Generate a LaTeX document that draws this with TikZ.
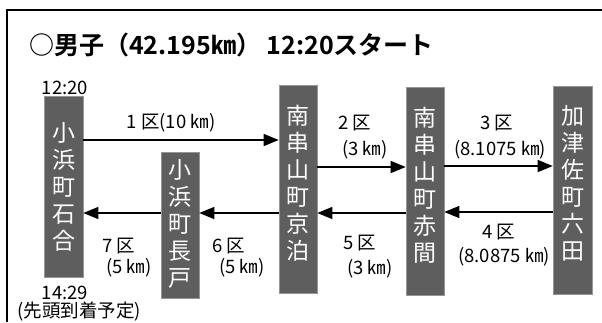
\documentclass[tikz,border=0pt]{standalone}
\usepackage{fontspec}
\setmainfont{Noto Sans CJK JP}[BoldFont={Noto Sans CJK JP Bold}]
\usetikzlibrary{arrows.meta}
\definecolor{boxfill}{RGB}{94,94,94}
\definecolor{boxline}{RGB}{150,150,150}
\tikzset{
  stbox/.style={draw=boxline, line width=0.6pt, fill=boxfill, minimum width=38pt, inner sep=0pt},
  boxtxt/.style={text=white, align=center, inner sep=0pt, font=\fontsize{23}{27}\selectfont},
  lbl/.style={inner sep=0pt, font=\fontsize{18.5}{20}\selectfont},
  arr/.style={line width=1.2pt, -{Triangle[length=15pt,width=12pt]}},
  frame/.style={line width=1.5pt}
}
\begin{document}
\begin{tikzpicture}[x=1pt,y=-1pt]
\useasboundingbox (0,0) rectangle (602,322);
\fill[white] (0,0) rectangle (602,322);
\draw[frame] (7,322) -- (7,10) -- (602,10);
% title
\node[anchor=west, inner sep=0pt, font=\fontsize{25}{28}\selectfont\bfseries] (title) at (29,45) {○男子（42.195㎞） 12:20スタート};
% boxes
\node[stbox, minimum width=39pt, minimum height=181pt] (b1) at (63.5,186.5) {};
\node[stbox, minimum height=146pt] (b2) at (180,225) {};
\node[stbox, minimum height=208pt] (b3) at (298,189) {};
\node[stbox, minimum height=208pt] (b4) at (425,191) {};
\node[stbox, minimum width=39pt, minimum height=208pt] (b5) at (572.5,190) {};
\node[boxtxt] (t1) at (63.5,186.5) {小\\浜\\町\\石\\合};
\node[boxtxt] (t2) at (180,224) {小\\浜\\町\\長\\戸};
\node[boxtxt] (t3) at (298,183) {南\\串\\山\\町\\京\\泊};
\node[boxtxt] (t4) at (425,185) {南\\串\\山\\町\\赤\\間};
\node[boxtxt] (t5) at (572.5,183) {加\\津\\佐\\町\\六\\田};
% arrows
\draw[arr] ([yshift=46.5pt]b1.east) -- ([yshift=49pt]b3.west);
\draw[arr] ([yshift=22pt]b3.east) -- ([yshift=24pt]b4.west);
\draw[arr] ([yshift=25pt]b4.east) -- ([yshift=24pt]b5.west);
\draw[arr] ([yshift=-22pt]b5.west) -- ([yshift=-21pt]b4.east);
\draw[arr] ([yshift=-22pt]b4.west) -- ([yshift=-24pt]b3.east);
\draw[arr] ([yshift=-24pt]b3.west) -- ([yshift=12pt]b2.east);
\draw[arr] ([yshift=12pt]b2.west) -- ([yshift=-26.5pt]b1.east);
% labels
\node[lbl] (s) at (65,88) {12:20};
\node[lbl] (e) at (65,293) {14:29};
\node[lbl] (e2) at (79,312) {(先頭到着予定)};
\node[lbl] (l1) at (171,123) {1 区(10 ㎞)};
\node[lbl] (l2a) at (355,123) {2 区};
\node[lbl] (l2b) at (365,150) {(3 ㎞)};
\node[lbl] (l3a) at (497,123) {3 区};
\node[lbl] (l3b) at (500,150) {(8.1075 ㎞)};
\node[lbl] (l4a) at (499,232) {4 区};
\node[lbl] (l4b) at (504,257) {(8.0875 ㎞)};
\node[lbl] (l5a) at (360,243) {5 区};
\node[lbl] (l5b) at (370,269) {(3 ㎞)};
\node[lbl] (l6a) at (229,246) {6 区};
\node[lbl] (l6b) at (242,268) {(5 ㎞)};
\node[lbl] (l7a) at (119,246) {7 区};
\node[lbl] (l7b) at (129,268) {(5 ㎞)};
\end{tikzpicture}
\end{document}
